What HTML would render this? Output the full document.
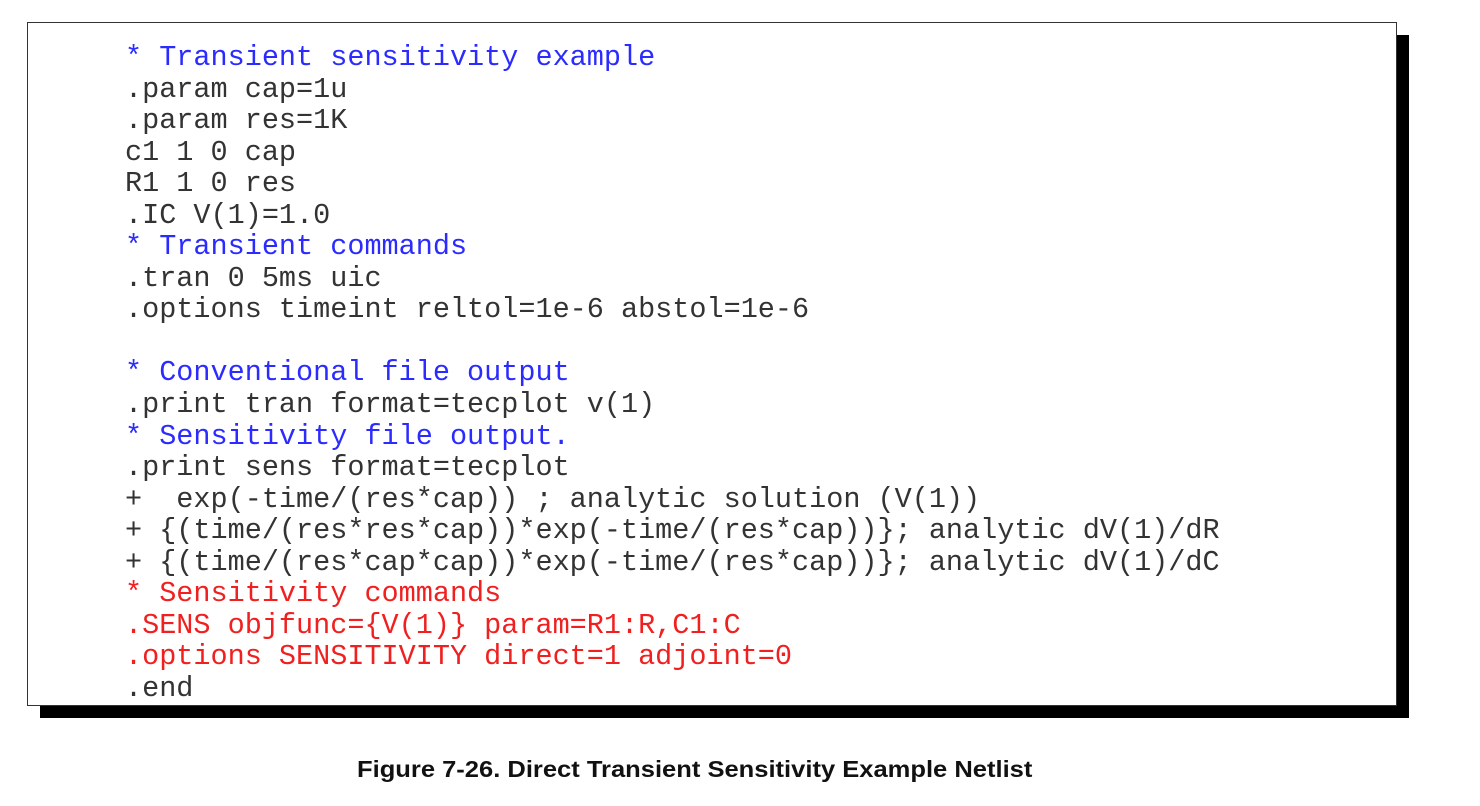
<!DOCTYPE html>
<html><head><style>
body{margin:0;width:1480px;height:806px;background:#fff;position:relative;overflow:hidden}
.sh{position:absolute;left:40px;top:35px;width:1369px;height:683px;background:#000}
.box{position:absolute;left:27px;top:22px;width:1368px;height:682px;background:#fff;border:1px solid #333}
pre{position:absolute;left:125px;top:42px;margin:0;font-family:"Liberation Mono",monospace;font-size:28.5px;line-height:31.55px;color:#333}
.b{color:#2b2bff}.r{color:#f02020}
.cap{position:absolute;left:357px;top:756px;white-space:nowrap;font:bold 23px "Liberation Sans",sans-serif;color:#111;transform-origin:0 0;transform:scaleX(1.11)}
</style></head><body>
<div class="sh"></div><div class="box"></div>
<pre><span class="b">* Transient sensitivity example</span>
.param cap=1u
.param res=1K
c1 1 0 cap
R1 1 0 res
.IC V(1)=1.0
<span class="b">* Transient commands</span>
.tran 0 5ms uic
.options timeint reltol=1e-6 abstol=1e-6

<span class="b">* Conventional file output</span>
.print tran format=tecplot v(1)
<span class="b">* Sensitivity file output.</span>
.print sens format=tecplot
+  exp(-time/(res*cap)) ; analytic solution (V(1))
+ {(time/(res*res*cap))*exp(-time/(res*cap))}; analytic dV(1)/dR
+ {(time/(res*cap*cap))*exp(-time/(res*cap))}; analytic dV(1)/dC
<span class="r">* Sensitivity commands</span>
<span class="r">.SENS objfunc={V(1)} param=R1:R,C1:C</span>
<span class="r">.options SENSITIVITY direct=1 adjoint=0</span>
.end</pre>
<div class="cap">Figure 7-26. Direct Transient Sensitivity Example Netlist</div>
</body></html>
